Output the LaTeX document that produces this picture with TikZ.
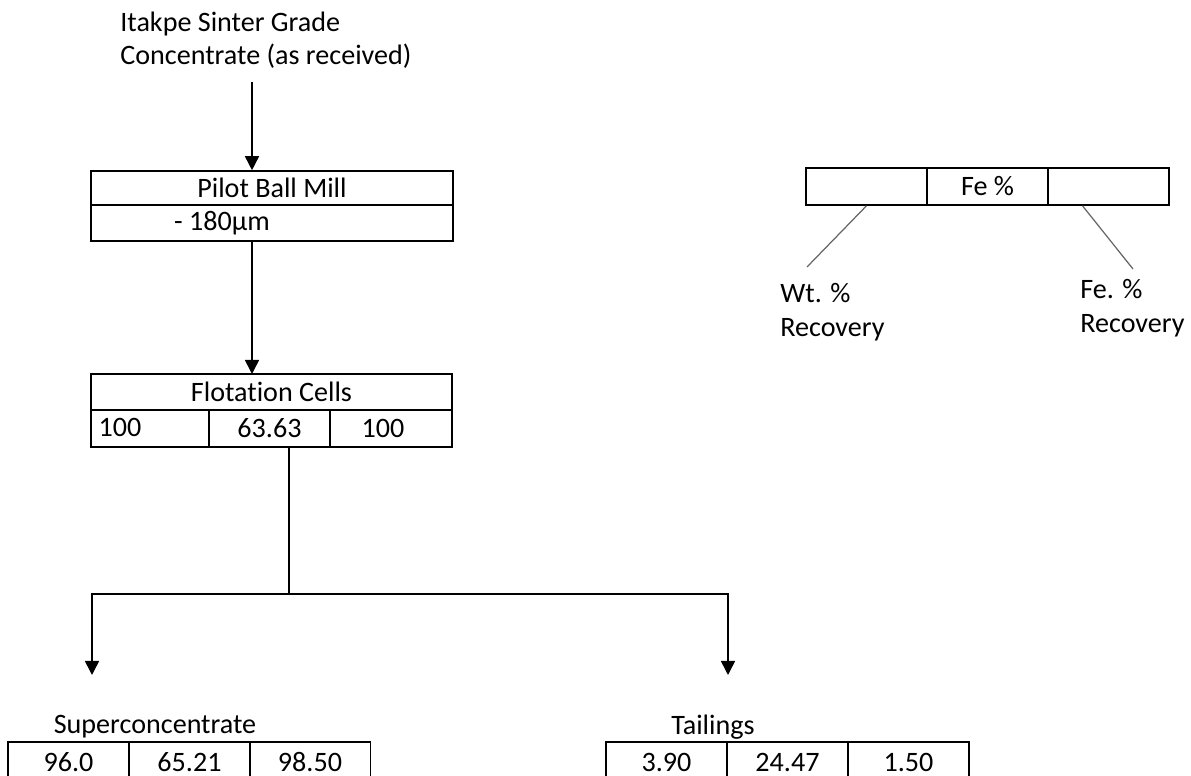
\documentclass[tikz,border=0pt]{standalone}
\usepackage{fontspec}
\setmainfont[Ligatures={NoCommon}]{Carlito}
\usetikzlibrary{arrows.meta}

\tikzset{
  cell/.style={draw, line width=0.9pt, minimum width=2.42cm, minimum height=0.72cm, inner sep=0pt},
  flow/.style={line width=0.9pt, -{Triangle[width=8pt,length=8pt]}},
  link/.style={line width=0.9pt},
  lead/.style={line width=0.7pt, gray!80!black}
}

\begin{document}
\begin{tikzpicture}[x=0.02cm, y=-0.02cm, font=\fontsize{16}{19}\selectfont]
        \clip (0,0) rectangle (1191,776);

        % feed
        \node[anchor=west, align=left, inner sep=0pt] (feed) at (120,40) {Itakpe Sinter Grade\\Concentrate (as received)};
        \coordinate (in) at (252,82);

        % ball mill
        \node[cell, minimum width=7.24cm, minimum height=0.68cm] (mill) at (272,188) {Pilot Ball Mill};
        \node[cell, minimum width=7.24cm, minimum height=0.72cm] (millsize) at (272,223) {};
        \node (size) at (222,223) {- 180µm};

        \draw[flow] (in) -- (in |- mill.north);
        \draw[flow] (in |- millsize.south) -- (in |- 0,374);

        % flotation
        \node[cell, minimum width=7.22cm] (flot) at (271.5,392) {Flotation Cells};
        \node[cell, minimum width=2.36cm, minimum height=0.74cm] (f1) at (150,428.5) {};
        \node[cell, minimum width=2.42cm, minimum height=0.74cm] (f2) at (269.5,428.5) {63.63};
        \node[cell, minimum width=2.44cm, minimum height=0.74cm] (f3) at (391,428.5) {};
        \node (wt) at (120,427) {100};
        \node (fe) at (383,428.5) {100};

        % split
        \coordinate (split) at (289,594);
        \coordinate (toSup) at (92,675);
        \coordinate (toTail) at (728,675);
        \draw[link] (split |- f2.south) -- (split);
        \draw[flow] (split) -| (toSup);
        \draw[flow] (split) -| (toTail);

        % superconcentrate
        \node (suplabel) at (155,727) {Superconcentrate};
        \node[cell, minimum height=0.8cm] (s1) at (68.5,762) {96.0};
        \node[cell, minimum height=0.8cm] (s2) at (189.5,762) {65.21};
        \node[cell, minimum height=0.8cm] (s3) at (310,762) {98.50};

        % tailings
        \node (taillabel) at (713,727) {Tailings};
        \node[cell, minimum height=0.8cm] (t1) at (666.5,762) {3.90};
        \node[cell, minimum height=0.8cm] (t2) at (787.5,762) {24.47};
        \node[cell, minimum height=0.8cm] (t3) at (908.5,762) {1.50};

        % key
        \node[cell, minimum height=0.74cm] (k1) at (866.5,186.5) {};
        \node[cell, minimum height=0.74cm] (k2) at (987.5,186.5) {Fe \%};
        \node[cell, minimum height=0.74cm] (k3) at (1108.5,186.5) {};
        \node[anchor=west, align=left, inner sep=0pt] (wtrec) at (780,312) {Wt. \%\\Recovery};
        \node[anchor=west, align=left, inner sep=0pt] (ferec) at (1080,308) {Fe. \%\\Recovery};
        \coordinate (wtend) at (807,267);
        \coordinate (feend) at (1133,269);
        \draw[lead] (k1.south) -- (wtend);
        \draw[lead] ([xshift=-0.52cm]k3.south) -- (feend);
      \end{tikzpicture}
\end{document}
